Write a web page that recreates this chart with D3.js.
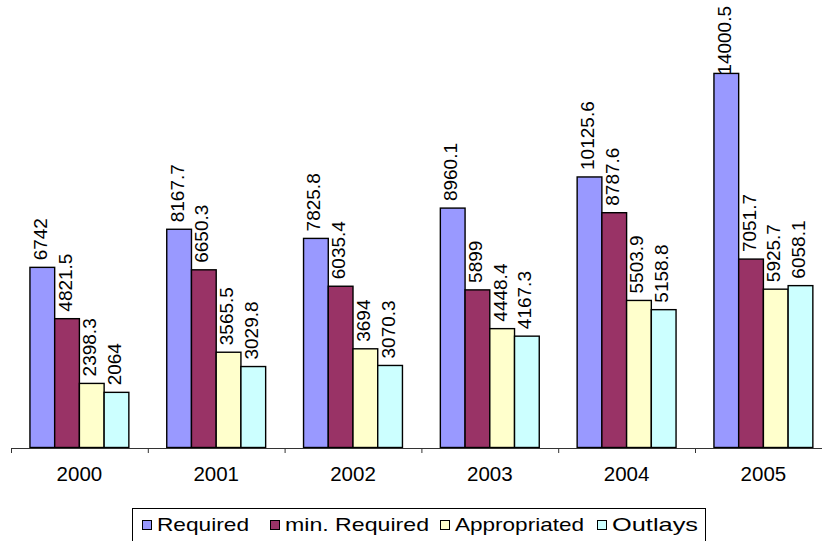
<!DOCTYPE html>
<html>
<head>
<meta charset="utf-8">
<script src="https://cdn.jsdelivr.net/npm/d3@7"></script>
<style>
  body { margin: 0; background: #fff; }
  text { font-family: Arial, "Liberation Sans", sans-serif; fill: #000; }
</style>
</head>
<body>
<div id="chart"></div>
<script>
const years = ["2000", "2001", "2002", "2003", "2004", "2005"];
const seriesNames = ["Required", "min. Required", "Appropriated", "Outlays"];
const required = [6742, 8167.7, 7825.8, 8960.1, 10125.6, 14000.5];
const minRequired = [4821.5, 6650.3, 6035.4, 5899, 8787.6, 7051.7];
const appropriated = [2398.3, 3565.5, 3694, 4448.4, 5503.9, 5925.7];
const outlays = [2064, 3029.8, 3070.3, 4167.3, 5158.8, 6058.1];
const colors = ["#9999FF", "#993366", "#FFFFCC", "#CCFFFF"];

const svgWidth = 822, svgHeight = 541;
const baseY = 447.5;

var svg = d3.select("#chart")
  .append("svg")
  .attr("width", svgWidth)
  .attr("height", svgHeight);

const allSeries = [required, minRequired, appropriated, outlays];
const rows = years.map((y, i) => ({
  year: y,
  values: allSeries.map((s, j) => ({ key: seriesNames[j], value: s[i] }))
}));

var x0 = d3.scaleBand()
  .domain(years)
  .range([11, 831.8])
  .paddingInner(0.277)
  .paddingOuter(0.1385);

var x1 = d3.scaleBand()
  .domain(seriesNames)
  .range([0, x0.bandwidth()]);

var yScale = d3.scaleLinear()
  .domain([0, 16000])
  .range([baseY, 20]);

var color = d3.scaleOrdinal().domain(seriesNames).range(colors);

// bars
var groups = svg.append("g")
  .selectAll("g")
  .data(rows)
  .enter()
  .append("g")
  .attr("transform", (d) => "translate(" + x0(d.year) + ",0)");

groups.selectAll("rect")
  .data((d) => d.values)
  .enter()
  .append("rect")
  .attr("x", (d) => x1(d.key))
  .attr("y", (d) => yScale(d.value))
  .attr("width", x1.bandwidth())
  .attr("height", (d) => baseY - yScale(d.value))
  .style("fill", (d) => color(d.key))
  .style("stroke", "#000")
  .style("stroke-width", 1.4);

// value labels, rotated
groups.selectAll("text")
  .data((d) => d.values)
  .enter()
  .append("text")
  .style("font-size", "19px")
  .attr("text-anchor", "start")
  .text((d) => String(d.value))
  .each(function (d) {
    var len = this.getComputedTextLength();
    var cx = x1(d.key) + x1.bandwidth() / 2 + 4.5;
    var start = yScale(d.value) - 7;
    if (start - len < 6) start = 6 + len;
    d3.select(this).attr("transform", "translate(" + cx + "," + start + ") rotate(-90)");
  });

// axis with ticks between categories
var tickScale = d3.scaleLinear().domain([0, years.length]).range([11, 831.8]);
var axis = svg.append("g")
  .attr("transform", "translate(0," + (baseY + 0.5) + ")")
  .call(d3.axisBottom(tickScale).ticks(years.length).tickFormat("").tickSize(5).tickSizeOuter(0));
axis.select(".domain").attr("stroke", "#333");
axis.selectAll(".tick line").attr("stroke", "#333");

svg.append("g")
  .selectAll("text")
  .data(years)
  .enter()
  .append("text")
  .attr("x", (d) => x0(d) + x0.bandwidth() / 2)
  .attr("y", 481)
  .attr("text-anchor", "middle")
  .style("font-size", "20.5px")
  .text((d) => d);

// legend
const legendX = [142, 270, 440, 597];
const legendW = [92, 144, 129, 86];
var legend = svg.append("g");
legend.append("rect")
  .attr("x", 132.5)
  .attr("y", 508.5)
  .attr("width", 573)
  .attr("height", 40)
  .style("fill", "#fff")
  .style("stroke", "#000")
  .style("stroke-width", 1);

var items = legend.selectAll("g.item")
  .data(seriesNames)
  .enter()
  .append("g")
  .attr("class", "item")
  .attr("transform", (d, i) => "translate(" + legendX[i] + ",0)");

items.append("rect")
  .attr("x", 0.5)
  .attr("y", 520.5)
  .attr("width", 9)
  .attr("height", 9)
  .style("fill", (d) => color(d))
  .style("stroke", "#000")
  .style("stroke-width", 1);

items.append("text")
  .attr("x", 15)
  .attr("y", 530.5)
  .style("font-size", "18.5px")
  .attr("textLength", (d, i) => legendW[i])
  .attr("lengthAdjust", "spacingAndGlyphs")
  .text((d) => d);
</script>
</body>
</html>
